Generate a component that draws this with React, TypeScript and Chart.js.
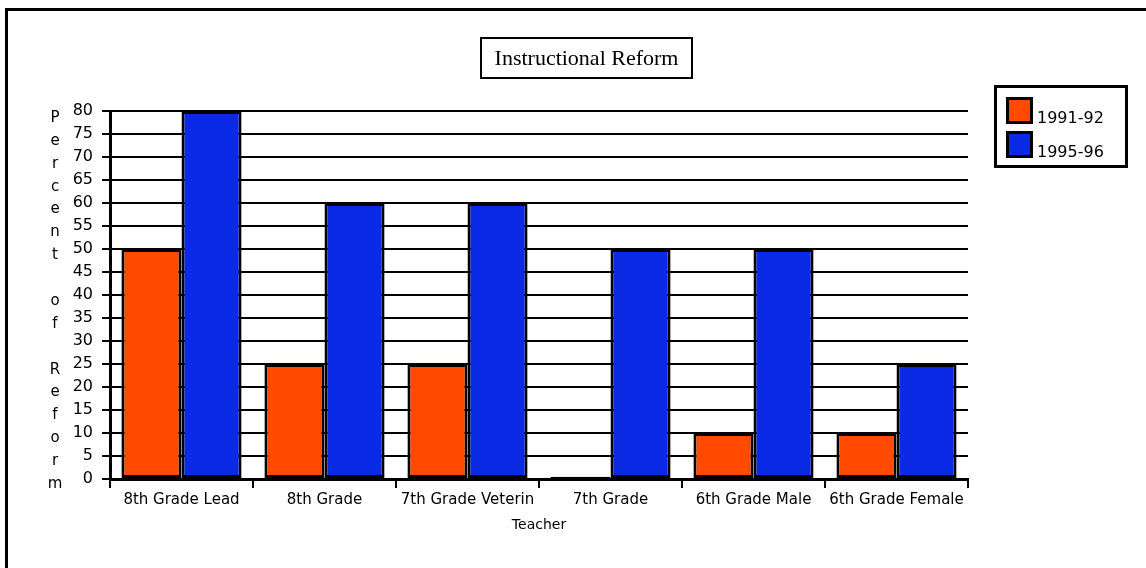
import React, { useEffect, useRef } from "react";
import { Chart, registerables } from "chart.js";

Chart.register(...registerables);

const chartTitle = "Instructional Reform";
const categories = [
  "8th Grade Lead",
  "8th Grade",
  "7th Grade Veterin",
  "7th Grade",
  "6th Grade Male",
  "6th Grade Female",
];
const seriesLabels = ["1991-92", "1995-96"];
const series1991 = [50, 25, 25, 0.5, 10, 10];
const series1995 = [80, 60, 60, 50, 50, 25];
const yTitle = "Percent of Reform";
const xTitle = "Teacher";

const ORANGE = "#FF4A00";
const BLUE = "#0A2AE6";
const SANS = "'DejaVu Sans', sans-serif";

const decorPlugin = {
  id: "decor",
  beforeDraw(chart: any) {
    const ctx = chart.ctx;
    ctx.save();
    ctx.fillStyle = "#fff";
    ctx.fillRect(0, 0, chart.width, chart.height);
    ctx.strokeStyle = "#000";
    ctx.lineWidth = 3;
    ctx.beginPath();
    ctx.moveTo(6.5, chart.height + 5);
    ctx.lineTo(6.5, 9.5);
    ctx.lineTo(chart.width + 5, 9.5);
    ctx.stroke();
    ctx.restore();
  },
  afterDraw(chart: any) {
    const ctx = chart.ctx;
    const area = chart.chartArea;
    ctx.save();
    ctx.strokeStyle = "#000";
    ctx.lineWidth = 2;
    ctx.strokeRect(481, 38, 211, 40);
    ctx.fillStyle = "#000";
    ctx.font = "22px 'Liberation Serif', serif";
    ctx.textAlign = "center";
    ctx.textBaseline = "alphabetic";
    ctx.fillText(chartTitle, 586.5, 65);

    const letters = yTitle.split("");
    const start = area.top + 7;
    const end = area.bottom + 5;
    const step = (end - start) / (letters.length - 1);
    ctx.font = "15px " + SANS;
    ctx.textBaseline = "middle";
    letters.forEach((ch: string, i: number) => {
      if (ch !== " ") ctx.fillText(ch, 55, start + i * step);
    });

    ctx.lineWidth = 3;
    ctx.strokeRect(995.5, 86.5, 131, 80);
    ctx.textAlign = "left";
    ctx.textBaseline = "alphabetic";
    ctx.font = "16px " + SANS;
    chart.data.datasets.forEach((ds: any, i: number) => {
      const y = 97 + i * 34;
      ctx.fillStyle = ds.backgroundColor;
      ctx.fillRect(1006, y, 27, 27);
      ctx.lineWidth = 3;
      ctx.strokeStyle = "#000";
      ctx.strokeRect(1007.5, y + 1.5, 24, 24);
      ctx.fillStyle = "#000";
      ctx.fillText(ds.label, 1037, y + 26);
    });
    ctx.restore();
  },
};

export default function App() {
  const ref = useRef<HTMLCanvasElement | null>(null);
  useEffect(() => {
    if (!ref.current) return;
    const barStyle = {
      borderColor: "#000",
      borderWidth: 3,
      borderSkipped: false,
      categoryPercentage: 0.84,
      barPercentage: 1,
    };
    const chart = new Chart(ref.current, {
      type: "bar",
      data: {
        labels: categories,
        datasets: [
          { label: seriesLabels[0], data: series1991, backgroundColor: ORANGE, ...barStyle },
          { label: seriesLabels[1], data: series1995, backgroundColor: BLUE, ...barStyle },
        ],
      },
      options: {
        responsive: false,
        animation: false,
        devicePixelRatio: 1,
        layout: { padding: { left: 0, top: 111, right: 178, bottom: 34 } },
        plugins: {
          legend: { display: false },
          title: { display: false },
          tooltip: { enabled: false },
        },
        scales: {
          x: {
            afterFit: (s: any) => {
              s.height = 55;
            },
            grid: {
              display: true,
              drawOnChartArea: false,
              drawTicks: true,
              tickLength: 9,
              color: "#000",
              lineWidth: 2,
              offset: true,
            },
            border: { display: true, color: "#000", width: 3 },
            ticks: {
              color: "#000",
              font: { family: SANS, size: 15 },
              padding: 3,
              maxRotation: 0,
              autoSkip: false,
            },
            title: {
              display: true,
              text: xTitle,
              color: "#000",
              font: { family: SANS, size: 14 },
              padding: { top: 4, bottom: 0 },
            },
          },
          y: {
            min: 0,
            max: 80,
            afterFit: (s: any) => {
              s.width = 110;
            },
            grid: {
              color: "#000",
              lineWidth: 2,
              drawTicks: true,
              tickLength: 8,
            },
            border: { display: true, color: "#000", width: 3 },
            ticks: {
              stepSize: 5,
              color: "#000",
              font: { family: SANS, size: 16 },
              padding: 9,
            },
          },
        },
      },
      plugins: [decorPlugin],
    });
    return () => chart.destroy();
  }, []);
  return (
    <div style={{ position: "absolute", left: 0, top: 0, width: 1146, height: 568 }}>
      <canvas ref={ref} width={1146} height={568} style={{ display: "block" }} />
    </div>
  );
}
